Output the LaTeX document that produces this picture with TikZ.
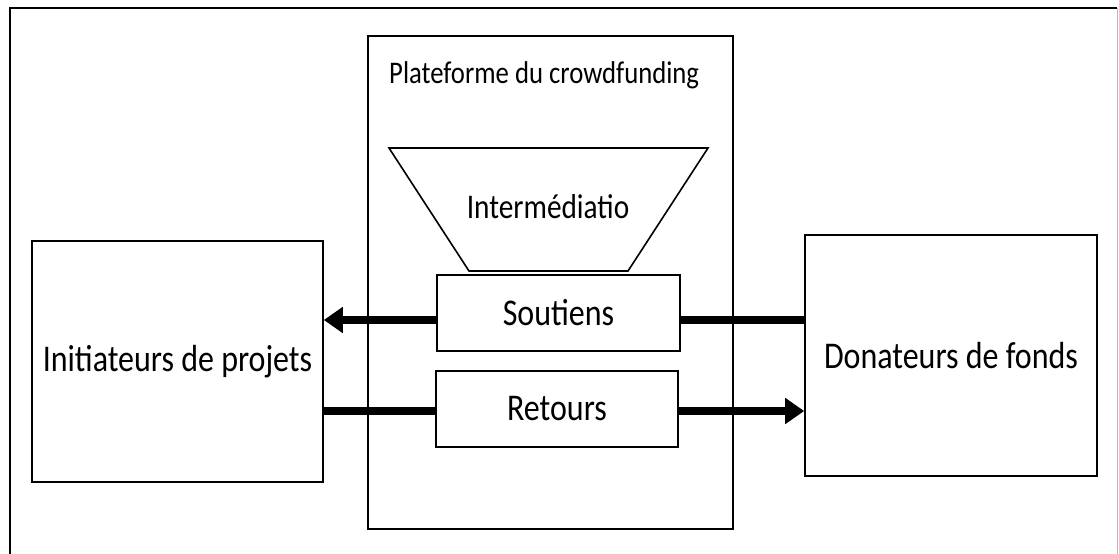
\documentclass[tikz,border=0pt]{standalone}
\usepackage{fontspec}
\usepackage{graphicx}
\setmainfont{Carlito}
\usetikzlibrary{arrows.meta,calc}

% labels are set slightly taller than the font's natural shape
\newcommand{\tallText}[1]{\scalebox{1}[1.18]{#1}}

\tikzset{
  box/.style={draw=black, line width=1.6pt, fill=white, inner sep=0pt, align=center},
  lbl/.style={font=\fontsize{32}{38}\selectfont},
  flow/.style={line width=8pt, draw=black},
  flowtip/.style={flow, -{Triangle[length=19pt,width=25pt]}},
}

\begin{document}
\begin{tikzpicture}[x=1pt, y=-1pt]
  \useasboundingbox (0,0) rectangle (1119,554);

  % outer frame (its lower edge falls outside the page)
  \draw[line width=2pt] (10,560) -- (10,8) -- (1117,8);
  \draw[line width=1.5pt, gray!55] (1117.5,8) -- (1117.5,560);

  % platform container
  \node[box, minimum width=365pt, minimum height=493pt] (plat) at (550.5,282.5) {};
  \node[anchor=base west, inner sep=0pt, font=\fontsize{26.7}{32}\selectfont]
    (plattitle) at (389,83) {\tallText{Plateforme du crowdfunding}};

  % intermediation funnel
  \coordinate (ftl) at (389,148);
  \coordinate (ftr) at (708,148);
  \coordinate (fbr) at (628,271);
  \coordinate (fbl) at (469,271);
  \draw[line width=1.6pt, line join=miter] (ftl) -- (ftr) -- (fbr) -- (fbl) -- cycle;
  \node[inner sep=0pt, font=\fontsize{29.3}{35}\selectfont] (inter) at (548,207) {\tallText{Intermédiatio}};

  % inner boxes
  \node[box, lbl, minimum width=243pt, minimum height=76pt] (sout) at (558.5,313) {\tallText{Soutiens}};
  \node[box, lbl, minimum width=242pt, minimum height=76pt] (ret) at (557,409) {\tallText{Retours}};

  % side actors
  \node[box, lbl, minimum width=291pt, minimum height=241pt] (init) at (177.5,361.5) {\tallText{Initiateurs de projets}};
  \node[box, lbl, minimum width=292pt, minimum height=241pt] (don) at (951,355.5) {\tallText{Donateurs de fonds}};

  % flow anchors
  \coordinate (sw) at ($(sout.west)+(0,7)$);
  \coordinate (se) at ($(sout.east)+(0,7)$);
  \coordinate (rw) at ($(ret.west)+(0,2)$);
  \coordinate (re) at ($(ret.east)+(0,2)$);

  % flows
  \draw[flowtip] (sw) -- (init.east |- sw);
  \draw[flow] (se) -- (don.west |- se);
  \draw[flow] (init.east |- rw) -- (rw);
  \draw[flowtip] (re) -- (don.west |- re);
\end{tikzpicture}
\end{document}
